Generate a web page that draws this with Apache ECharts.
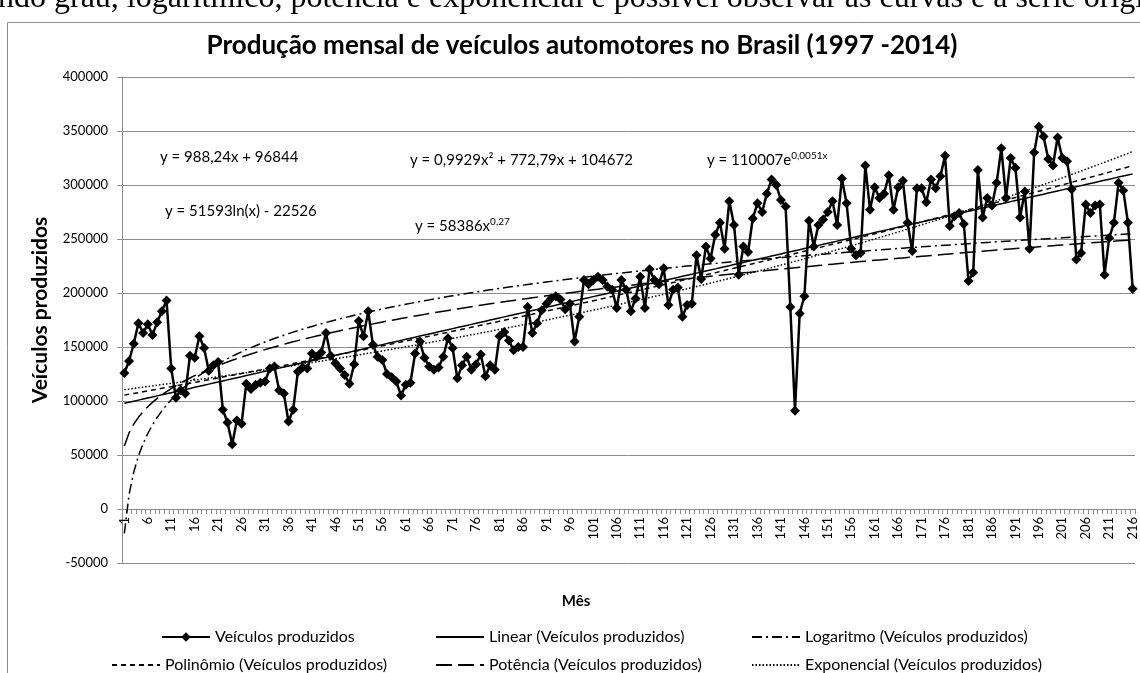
<!DOCTYPE html>
<html lang="pt-BR">
<head>
<meta charset="UTF-8">
<title>Produção mensal de veículos</title>
<script src="https://cdn.jsdelivr.net/npm/echarts@6/dist/echarts.min.js"></script>
<style>
  html, body { margin: 0; padding: 0; background: #fff; }
  #main { width: 1140px; height: 673px; }
</style>
</head>
<body>
<div id="main"></div>
<script>
// meses 1..216 (jan/1997 - dez/2014)
var meses = [];
for (var i = 1; i <= 216; i++) meses.push(String(i));

// produção mensal
var producao = [
  126000, 137000, 153000, 172000, 163000, 171000, 161000, 173000, 183000, 193000, 130000, 103000,
  110000, 107000, 142000, 140000, 160000, 149000, 128000, 133000, 136000, 92000, 80000, 60000,
  82000, 79000, 116000, 111000, 115000, 117000, 118000, 130000, 132000, 110000, 107000, 81000,
  92000, 127000, 131000, 130000, 144000, 141000, 145000, 163000, 142000, 135000, 130000, 124000,
  116000, 134000, 174000, 160000, 183000, 152000, 141000, 138000, 125000, 122000, 118000, 105000,
  115000, 117000, 144000, 155000, 140000, 132000, 129000, 131000, 141000, 158000, 149000, 121000,
  133000, 141000, 129000, 134000, 143000, 123000, 133000, 129000, 160000, 164000, 156000, 147000,
  150000, 150000, 187000, 163000, 172000, 184000, 190000, 195000, 197000, 194000, 185000, 190000,
  155000, 178000, 212000, 208000, 212000, 215000, 212000, 206000, 203000, 186000, 212000, 203000,
  183000, 195000, 215000, 186000, 222000, 212000, 208000, 223000, 189000, 203000, 205000, 178000,
  189000, 190000, 235000, 213000, 243000, 232000, 254000, 265000, 241000, 285000, 263000, 217000,
  243000, 238000, 269000, 283000, 275000, 292000, 305000, 300000, 286000, 280000, 187000, 91000,
  181000, 197000, 267000, 243000, 263000, 268000, 275000, 285000, 263000, 306000, 283000, 241000,
  235000, 237000, 318000, 277000, 298000, 288000, 292000, 309000, 277000, 298000, 304000, 265000,
  239000, 297000, 297000, 284000, 305000, 297000, 308000, 327000, 262000, 271000, 274000, 264000,
  211000, 219000, 314000, 270000, 288000, 281000, 302000, 334000, 288000, 325000, 316000, 270000,
  294000, 241000, 330000, 354000, 345000, 324000, 318000, 344000, 325000, 322000, 296000, 231000,
  237000, 282000, 274000, 281000, 282000, 217000, 251000, 265000, 302000, 295000, 265000, 204000
];

// coeficientes das linhas de tendência (equações do gráfico)
var coefLinear = [988.24, 96844];
var coefLog = [51593, -22526];
var coefPolinomio = [0.9929, 772.79, 104672];
var coefPotencia = [58386, 0.27];
var coefExponencial = [110007, 0.0051];

var equacoes = [
  'y = 988,24x + 96844',
  'y = 51593ln(x) - 22526',
  'y = 0,9929x² + 772,79x + 104672',
  'y = 58386x{s|0,27}',
  'y = 110007e{s|0,0051x}'
];

var nomes = [
  'Veículos produzidos',
  'Linear (Veículos produzidos)',
  'Logaritmo (Veículos produzidos)',
  'Polinômio (Veículos produzidos)',
  'Potência (Veículos produzidos)',
  'Exponencial (Veículos produzidos)'
];

var tLinear = [], tLog = [], tPoli = [], tPot = [], tExp = [];
for (var x = 1; x <= meses.length; x++) {
  tLinear.push(coefLinear[0] * x + coefLinear[1]);
  tLog.push(coefLog[0] * Math.log(x) + coefLog[1]);
  tPoli.push(coefPolinomio[0] * x * x + coefPolinomio[1] * x + coefPolinomio[2]);
  tPot.push(coefPotencia[0] * Math.pow(x, coefPotencia[1]));
  tExp.push(coefExponencial[0] * Math.exp(coefExponencial[1] * x));
}

var fonte = 'Lato';
var grade = '#8c8c8c';

function trend(nome, dados, tipo, largura) {
  return {
    name: nome,
    type: 'line',
    data: dados,
    symbol: 'none',
    silent: true,
    itemStyle: { color: 'rgba(0,0,0,0)', borderWidth: 0 },
    lineStyle: { color: '#000', width: largura, type: tipo },
    z: 3
  };
}

function legenda(nome, left, top) {
  return {
    data: [nome],
    left: left,
    top: top,
    itemWidth: 48,
    itemHeight: 12,
    itemGap: 4,
    textStyle: { fontFamily: fonte, fontSize: 16, color: '#000' }
  };
}

function eq(texto, x, y) {
  return {
    type: 'text',
    x: x,
    y: y,
    style: {
      text: texto,
      fontFamily: fonte,
      fontSize: 15,
      fill: '#000',
      textVerticalAlign: 'middle',
      rich: { s: { fontFamily: fonte, fontSize: 10, verticalAlign: 'top', padding: [0, 0, 9, 0] } }
    }
  };
}

var chart = echarts.init(document.getElementById('main'));
chart.setOption({
  animation: false,
  backgroundColor: '#fff',
  textStyle: { fontFamily: fonte },
  grid: { left: 122, right: 5, top: 77, bottom: 110, containLabel: false },
  xAxis: {
    type: 'category',
    data: meses,
    boundaryGap: true,
    axisLine: { onZero: true, lineStyle: { color: grade, width: 1 } },
    axisTick: { show: true, interval: 0, length: 5, lineStyle: { color: grade } },
    axisLabel: { interval: 4, rotate: 90, margin: -46, fontSize: 13, color: '#000', fontFamily: fonte },
    splitLine: { show: false }
  },
  yAxis: {
    type: 'value',
    min: -50000,
    max: 400000,
    interval: 50000,
    axisLine: { show: true, lineStyle: { color: grade } },
    axisTick: { show: true, length: 5, lineStyle: { color: grade } },
    axisLabel: {
      margin: 14, fontSize: 13, color: '#000', fontFamily: fonte,
      formatter: function (v) { return String(v); }
    },
    splitLine: { lineStyle: { color: grade, width: 1 } }
  },
  legend: [
    legenda(nomes[0], 156, 624),
    legenda(nomes[1], 430, 624),
    legenda(nomes[2], 746, 624),
    legenda(nomes[3], 106, 652),
    legenda(nomes[4], 430, 652),
    legenda(nomes[5], 746, 652)
  ],
  graphic: [
    {
      type: 'rect', silent: true,
      shape: { x: 7.5, y: 22.5, width: 1200, height: 700 },
      style: { fill: 'none', stroke: '#8c8c8c', lineWidth: 1 }
    },
    {
      type: 'text', x: -2, y: -17,
      style: {
        text: 'ndo grau, logarítmico, potência e exponencial é possível observar as curvas e a série original',
        fontFamily: 'Liberation Serif', fontSize: 32, fill: '#000'
      }
    },
    {
      type: 'text', x: 582, y: 46,
      style: {
        text: 'Produção mensal de veículos automotores no Brasil (1997 -2014)',
        fontFamily: fonte, fontSize: 26, fontWeight: 'bold', fill: '#000',
        textAlign: 'center', textVerticalAlign: 'middle'
      }
    },
    {
      type: 'text', x: 40, y: 310, rotation: Math.PI / 2,
      style: {
        text: 'Veículos produzidos',
        fontFamily: fonte, fontSize: 21, fontWeight: 'bold', fill: '#000',
        textAlign: 'center', textVerticalAlign: 'middle'
      }
    },
    {
      type: 'text', x: 576, y: 601,
      style: {
        text: 'Mês', fontFamily: fonte, fontSize: 15, fontWeight: 'bold', fill: '#000',
        textAlign: 'center', textVerticalAlign: 'middle'
      }
    },
    eq(equacoes[0], 160, 157),
    eq(equacoes[1], 165, 211),
    eq(equacoes[2], 410, 160),
    eq(equacoes[3], 415, 226),
    eq(equacoes[4], 707, 160)
  ],
  series: [
    {
      name: nomes[0],
      type: 'line',
      data: producao,
      symbol: 'diamond',
      symbolSize: 10,
      showAllSymbol: true,
      lineStyle: { color: '#000', width: 2.5 },
      itemStyle: { color: '#000' },
      z: 5
    },
    trend(nomes[1], tLinear, 'solid', 1.5),
    trend(nomes[2], tLog, [10, 4, 2, 4], 1.5),
    trend(nomes[3], tPoli, [5, 4], 1.5),
    trend(nomes[4], tPot, [16, 6], 1.5),
    trend(nomes[5], tExp, [1.5, 2], 1.5)
  ]
});
</script>
</body>
</html>
